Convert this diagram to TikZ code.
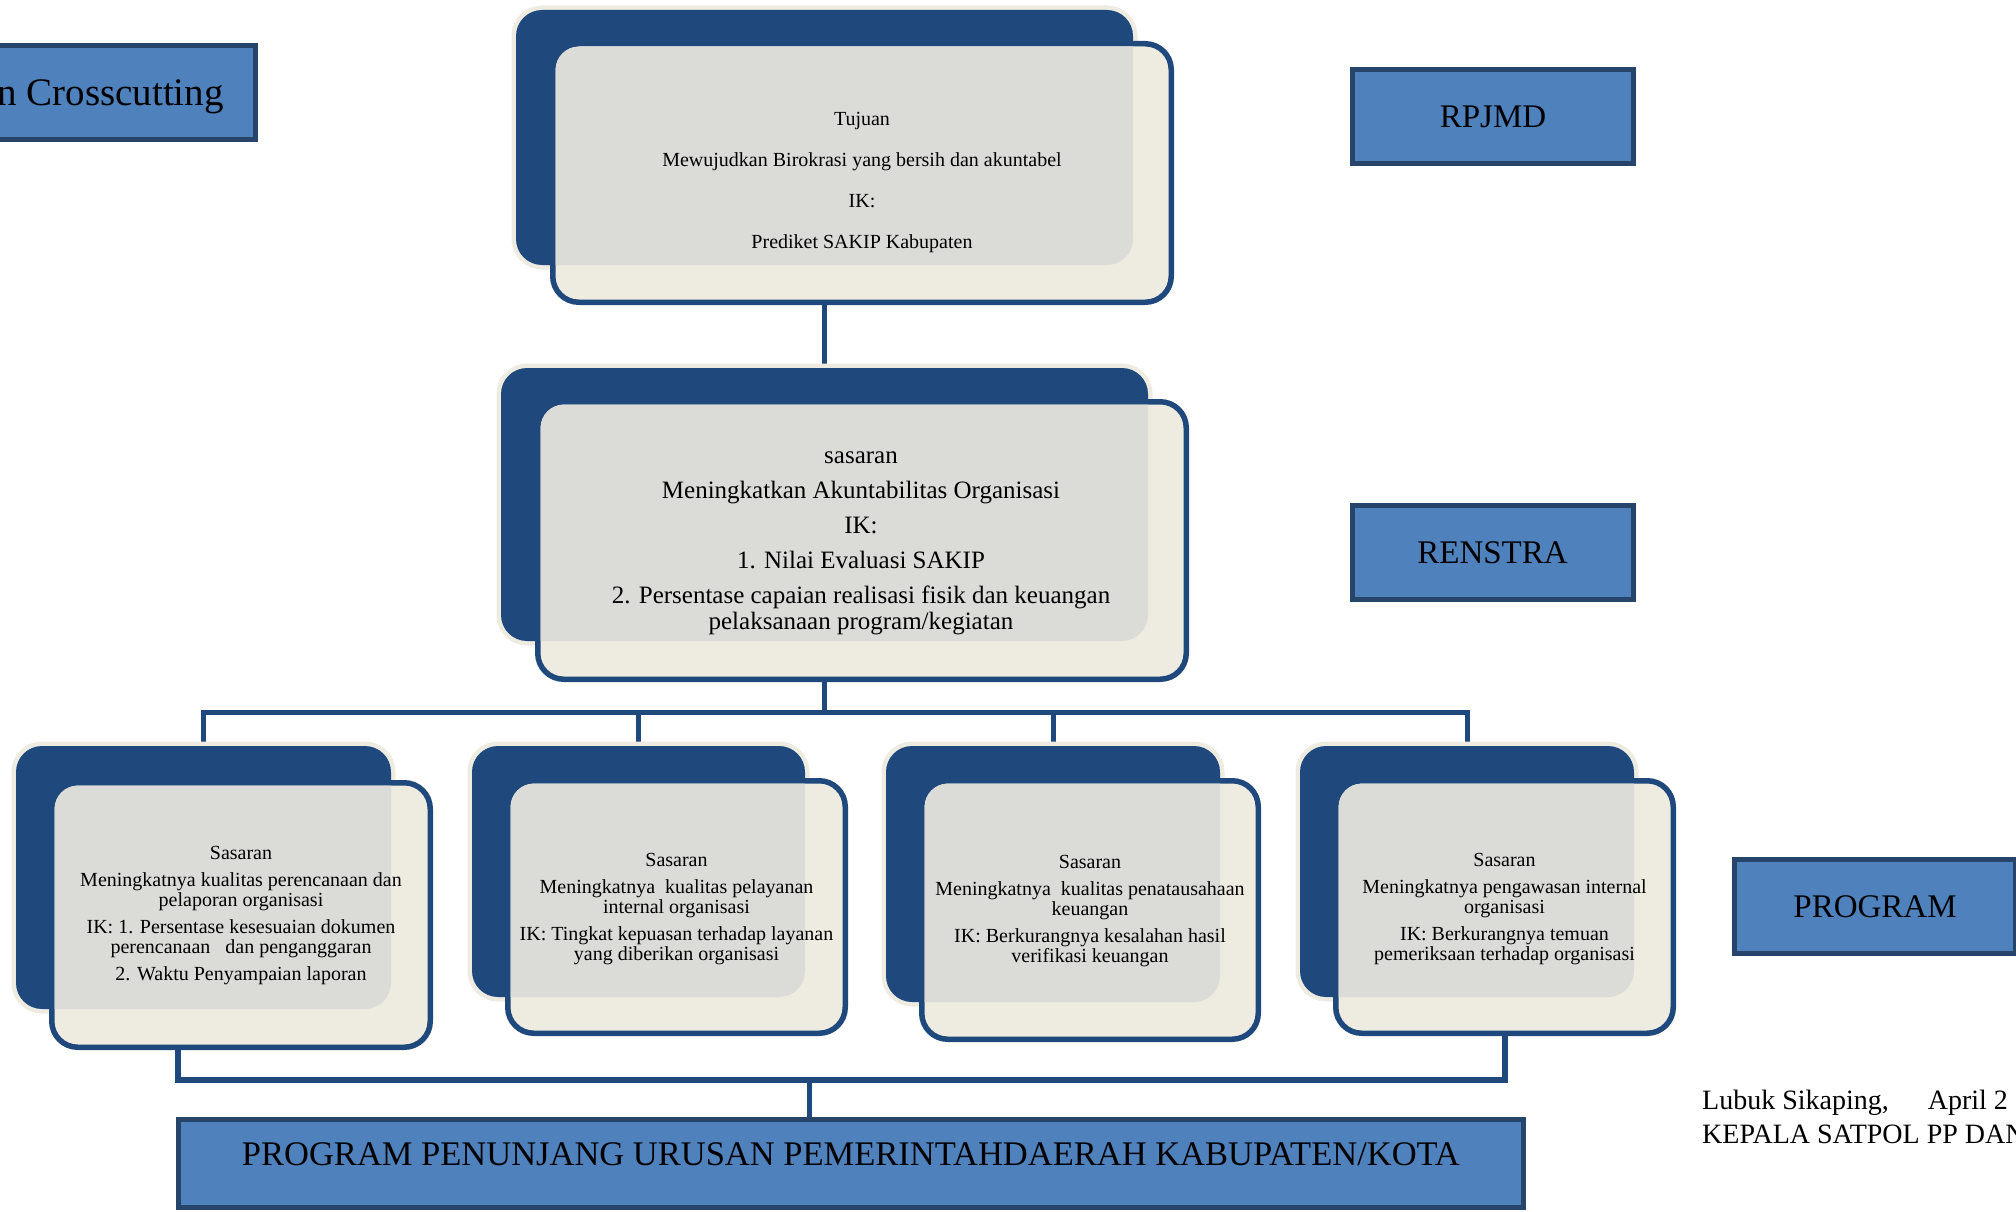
\documentclass[tikz,border=0pt]{standalone}
\usepackage{fontspec}
\setmainfont{Liberation Serif}
\usetikzlibrary{backgrounds}
\definecolor{navy}{HTML}{1F497D}
\definecolor{beige}{HTML}{EEECE1}
\definecolor{overlap}{HTML}{DBDCD7}
\definecolor{lblfill}{HTML}{4F81BD}
\definecolor{lbldraw}{HTML}{27446B}
\tikzset{
  backcard/.style={rectangle, rounded corners=26pt, fill=navy, preaction={draw=beige, line width=9pt}, inner sep=0pt, outer sep=0pt},
  frontcard/.style={rectangle, rounded corners=26pt, fill=beige, draw=navy, line width=5.5pt, inner sep=0pt, outer sep=0pt},
  conn/.style={draw=navy, line width=5pt},
  lblbox/.style={rectangle, fill=lblfill, draw=lbldraw, line width=5pt, minimum width=281pt, minimum height=94pt, inner sep=0pt, font=\fontsize{33}{40}\selectfont},
  cardtext/.style={align=center, inner sep=0pt, text=black},
  smalltext/.style={cardtext, font=\fontsize{20}{20}\selectfont}
}
\newcommand\mkcard[9]{%
  \node[backcard, minimum width={#4-#2}, minimum height={#5-#3}] (#1back) at ({(#2+#4)/2},{(#3+#5)/2}) {};
  \node[frontcard, minimum width={#8-#6-5.5}, minimum height={#9-#7-5.5}] (#1front) at ({(#6+#8)/2},{(#7+#9)/2}) {};
  \begin{scope}
    \clip[rounded corners=26pt] (#1back.north west) rectangle (#1back.south east);
    \fill[overlap, rounded corners=24pt] ([shift={(2.75,2.75)}]#1front.north west) rectangle ([shift={(-2.75,-2.75)}]#1front.south east);
  \end{scope}}
\begin{document}
\begin{tikzpicture}[x=1pt,y=-1pt]
\path[use as bounding box] (0,0) rectangle (2016,1212);

% cards
\mkcard{t}{516}{10}{1133}{265}{550}{41}{1174}{305}
\mkcard{m}{501}{368}{1148}{641}{535}{399}{1189}{682}
\mkcard{ba}{16}{746}{391}{1009}{49}{780}{433}{1050}
\mkcard{bb}{472}{746}{805}{997}{505}{778}{848}{1036}
\mkcard{bc}{886}{746}{1220}{1002}{919}{778}{1261}{1042}
\mkcard{bd}{1300}{746}{1634}{997}{1333}{778}{1676}{1036}

% card texts
\node[cardtext, font=\fontsize{20}{41}\selectfont] (ttext) at (862,183)
  {Tujuan\\Mewujudkan Birokrasi yang bersih dan akuntabel\\IK:\\Prediket SAKIP Kabupaten};
\node[cardtext, font=\fontsize{25}{26}\selectfont] (mtext) at (861,543)
  {sasaran\\[9pt]Meningkatkan Akuntabilitas Organisasi\\[9pt]IK:\\[9pt]1. Nilai Evaluasi SAKIP\\[9pt]2. Persentase capaian realisasi fisik dan keuangan\\pelaksanaan program/kegiatan};
\node[smalltext] (batext) at (241,916)
  {Sasaran\\[7pt]Meningkatnya kualitas perencanaan dan\\pelaporan organisasi\\[7pt]IK: 1. Persentase kesesuaian dokumen\\perencanaan\ \ \ dan penganggaran\\[7pt]2. Waktu Penyampaian laporan};
\node[smalltext] (bbtext) at (676.5,909)
  {Sasaran\\[7pt]Meningkatnya\ \ kualitas pelayanan\\internal organisasi\\[7pt]IK: Tingkat kepuasan terhadap layanan\\yang diberikan organisasi};
\node[smalltext] (bctext) at (1090,911)
  {Sasaran\\[7pt]Meningkatnya\ \ kualitas penatausahaan\\keuangan\\[7pt]IK: Berkurangnya kesalahan hasil\\verifikasi keuangan};
\node[smalltext] (bdtext) at (1504.5,909)
  {Sasaran\\[7pt]Meningkatnya pengawasan internal\\organisasi\\[7pt]IK: Berkurangnya temuan\\pemeriksaan terhadap organisasi};

% side labels
\node[lblbox] (cross) at (115,92.5) {};
\node[inner sep=0pt, anchor=base east, font=\fontsize{39}{44}\selectfont] (crosstext) at (224,106) {n Crosscutting};
\node[lblbox] (rpjmd) at (1493,116.5) {RPJMD};
\node[lblbox] (renstra) at (1492.5,552.5) {RENSTRA};
\node[lblbox] (program) at (1875,906.5) {PROGRAM};

% bottom banner
\node[rectangle, fill=lblfill, draw=lbldraw, line width=5pt, minimum width=1345pt, minimum height=88pt, inner sep=0pt] (banner) at (851,1163.5) {};
\node[inner sep=0pt, anchor=base, font=\fontsize{34.5}{40}\selectfont] (bannertext) at (851,1165)
  {PROGRAM PENUNJANG URUSAN PEMERINTAHDAERAH KABUPATEN/KOTA};

% signature
\node[inner sep=0pt, anchor=base west, font=\fontsize{28}{34}\selectfont] (sign1) at (1702,1109) {Lubuk Sikaping,\hspace{32pt} April 2};
\node[inner sep=0pt, anchor=base west, font=\fontsize{28}{34}\selectfont] (sign2) at (1702,1143) {KEPALA SATPOL PP DAN};

% connectors (behind the cards)
\begin{pgfonlayer}{background}
  \fill[white] (0,0) rectangle (2016,1212);
  \coordinate (bus) at (0,712);
  \coordinate (busB) at (0,1080);
  \coordinate (lb) at (178,1049);
  \coordinate (cd) at (809,1080);
  \draw[conn] (tback.south) -- (mback.north);
  \draw[conn] (mback.south) -- (mback.south |- bus);
  \draw[conn] (baback.north) |- (bdback.north |- bus) -- (bdback.north);
  \draw[conn] (bbback.north) -- (bbback.north |- bus);
  \draw[conn] (bcback.north) -- (bcback.north |- bus);
  \draw[conn, line width=6pt] (lb) |- (bdfront.south |- busB) -- (bdfront.south);
  \draw[conn] (cd) -- (cd |- banner.north);
\end{pgfonlayer}
\end{tikzpicture}
\end{document}
